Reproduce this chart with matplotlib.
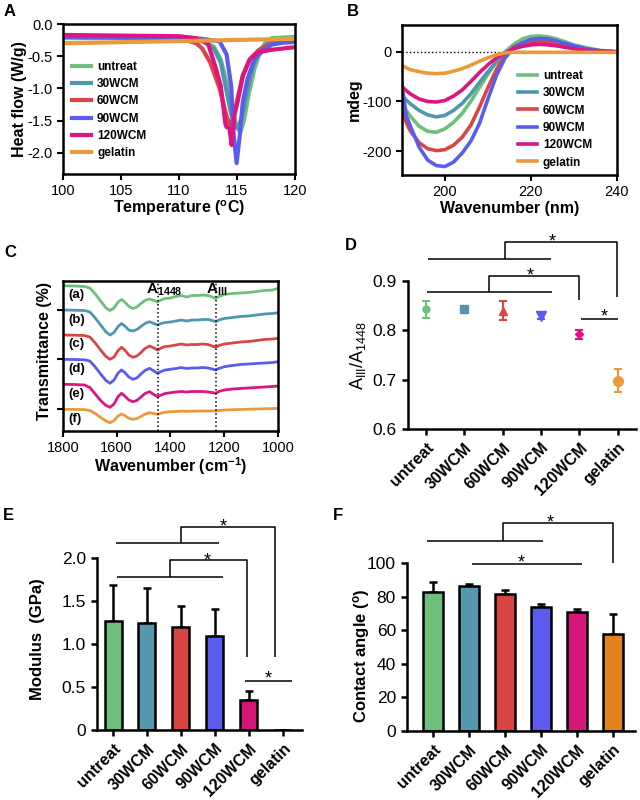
import numpy as np
import matplotlib
matplotlib.use("Agg")
import matplotlib.pyplot as plt

# fonts: Arial-like text everywhere, also inside mathtext
plt.rcParams['font.family'] = ['Liberation Sans', 'DejaVu Sans']
plt.rcParams['mathtext.fontset'] = 'custom'
plt.rcParams['mathtext.rm'] = 'Liberation Sans'
plt.rcParams['mathtext.it'] = 'Liberation Sans:italic'
plt.rcParams['mathtext.bf'] = 'Liberation Sans:bold'
plt.rcParams['axes.unicode_minus'] = False

# sample names and colours
categories = ['untreat', '30WCM', '60WCM', '90WCM', '120WCM', 'gelatin']
line_colors = ['#6dbf7b', '#4f97b0', '#db4545', '#5a5cf0', '#dc1580', '#eb9a3a']
bar_colors = ['#6dbf7b', '#5598b0', '#d94545', '#5b5bee', '#d4187a', '#e2831f']

# ---- panel A: DSC curves (temperature, heat flow) ----
dsc_untreat_t = [100, 105, 110, 112, 113, 113.6, 114.1, 114.6, 115.0, 115.3, 115.6, 116.0, 116.5, 117.0, 117.5, 118, 120]
dsc_untreat_hf = [-0.22, -0.22, -0.24, -0.27, -0.35, -0.55, -0.9, -1.35, -1.6, -1.68, -1.5, -1.1, -0.7, -0.42, -0.28, -0.22, -0.2]
dsc_30_t = [100, 105, 110, 112, 113, 113.6, 114.0, 114.5, 114.9, 115.1, 115.4, 115.8, 116.3, 116.9, 117.5, 118.5, 120]
dsc_30_hf = [-0.20, -0.21, -0.22, -0.26, -0.38, -0.6, -0.95, -1.4, -1.6, -1.63, -1.45, -1.1, -0.7, -0.42, -0.32, -0.27, -0.25]
dsc_60_t = [100, 105, 110, 111.5, 112, 112.7, 113.5, 114.1, 114.4, 114.6, 115.0, 115.5, 116.1, 116.9, 118, 119, 120]
dsc_60_hf = [-0.18, -0.19, -0.22, -0.3, -0.38, -0.6, -1.0, -1.43, -1.57, -1.5, -1.2, -0.8, -0.55, -0.4, -0.3, -0.27, -0.26]
dsc_90_t = [100, 105, 110, 112, 113.5, 114.1, 114.5, 114.7, 114.97, 115.26, 115.5, 115.9, 116.5, 117.2, 118, 119, 120]
dsc_90_hf = [-0.2, -0.21, -0.22, -0.23, -0.27, -0.47, -0.96, -1.7, -2.16, -1.7, -1.22, -0.86, -0.55, -0.42, -0.32, -0.29, -0.28]
dsc_120_t = [100, 105, 110, 111.5, 112.5, 113.2, 113.6, 114.0, 114.1, 114.35, 114.54, 114.8, 115.1, 115.5, 116.1, 116.8, 118, 120]
dsc_120_hf = [-0.17, -0.18, -0.19, -0.22, -0.3, -0.7, -0.96, -1.55, -1.6, -1.62, -1.88, -1.4, -1.17, -0.81, -0.55, -0.44, -0.4, -0.36]
dsc_gelatin_t = [100, 120]
dsc_gelatin_hf = [-0.30, -0.23]

# ---- panel B: CD spectra ----
cd_wl = [190, 191, 192, 194, 196, 198, 200, 202, 204, 206, 208, 210, 212, 214, 216, 218, 220, 222, 224, 226, 228, 230, 233, 236, 240]
cd_untreat = [-105, -118, -130, -150, -160, -162, -155, -142, -124, -100, -72, -45, -20, 0, 15, 26, 31, 32, 30, 26, 20, 14, 8, 3, 0]
cd_30 = [-88, -97, -105, -118, -127, -131, -128, -118, -104, -85, -62, -40, -20, -5, 7, 15, 19, 20, 19, 16, 12, 8, 4, 2, 0]
cd_60 = [-120, -142, -160, -183, -195, -199, -197, -188, -172, -148, -112, -72, -35, -6, 10, 17, 21, 22, 21, 18, 14, 10, 5, 2, 0]
cd_90 = [-65, -128, -150, -192, -218, -229, -231, -222, -204, -180, -145, -95, -47, -12, 8, 18, 25, 27, 26, 22, 17, 12, 6, 2, 0]
cd_120 = [-70, -78, -85, -95, -100, -101, -98, -89, -77, -60, -42, -26, -12, -2, 6, 11, 14, 15, 14, 12, 9, 6, 3, 1, 0]
cd_gelatin = [-28, -32, -36, -40, -43, -44, -43, -39, -34, -27, -19, -12, -6, -2, -1, -1, -1, -1, -1, -1, -1, -1, -1, -1, -1]

# ---- panel C: FTIR spectra, stacked (arbitrary units) ----
ftir_wn = [1800, 1760, 1720, 1700, 1680, 1660, 1640, 1625, 1610, 1595, 1582, 1570, 1555, 1540, 1525, 1510, 1495,
           1478, 1462, 1448, 1435, 1420, 1400, 1380, 1360, 1340, 1320, 1300, 1280, 1260, 1245, 1232, 1220, 1200,
           1170, 1140, 1110, 1080, 1050, 1020, 1000]
ftir_a = [145.3, 145, 144.5, 143, 137, 130, 123, 120.5, 123, 129, 131.5, 129, 124.5, 122.5, 124, 127.5, 130.5,
          132, 130.5, 129, 131, 132.5, 133, 134.5, 135.5, 134, 135.5, 135.5, 136, 135.5, 134, 132.5, 134.5, 136.5,
          137.5, 138, 138.5, 139.5, 140.5, 141, 142.7]
ftir_b = [121, 120.8, 120.5, 119, 113, 106, 99, 96, 98.5, 104.5, 107.5, 105, 101, 100, 101.5, 104.5, 107.5,
          109.3, 107.5, 106, 107.5, 108.5, 109, 110, 111, 110, 111, 111, 111.5, 111.5, 110.5, 109.3, 111, 112.5,
          113.5, 114.5, 115, 116, 117, 117.5, 118.3]
ftir_c = [96, 95.8, 95.5, 94, 88, 81, 74.5, 71.7, 74, 80.5, 83.7, 81, 76, 73.7, 75, 78.5, 82.5,
          85, 83, 81, 83, 84.5, 85, 86, 87, 86, 86.5, 86.5, 87, 86.5, 85, 83.7, 85.5, 87,
          88, 89, 89.5, 90.5, 91.5, 92, 92.7]
ftir_d = [71.7, 71.5, 71.2, 70, 64, 57, 50.5, 47.7, 51, 58, 61, 58.5, 54, 51.7, 53, 57, 60.5,
          62.7, 60, 57.7, 59.5, 61, 61.7, 62.5, 63.5, 62.5, 63, 63, 63.5, 63, 62, 61, 62.5, 64.3,
          65.5, 66.5, 67, 67.5, 68, 68.5, 69.3]
ftir_e = [46.7, 46.5, 46, 43.5, 37, 30.5, 25.5, 23.7, 27, 34.5, 37.7, 35, 31, 29.3, 30.5, 34, 37.5,
          39.3, 36.5, 34.3, 36, 37.5, 38.3, 39, 39.5, 39, 39.5, 39.5, 39.5, 39, 38.5, 37.7, 39.5, 41,
          42, 42.5, 43, 43.5, 44, 44.5, 45]
ftir_f = [21.7, 21.6, 21.4, 20.5, 17.5, 13.5, 10, 8.3, 10.5, 15, 17, 15.5, 12.8, 11.7, 12.5, 14.5, 16.8,
          18.3, 17.5, 16.7, 17.8, 18.8, 19.3, 19.5, 19.8, 19.6, 19.8, 19.9, 20, 20, 20, 20, 20.5, 21,
          21.3, 21.5, 21.8, 22, 22.2, 22.4, 22.7]
ftir_letters = ['(a)', '(b)', '(c)', '(d)', '(e)', '(f)']

# ---- panels D, E, F: group means and errors ----
ratio_mean = [0.843, 0.843, 0.840, 0.829, 0.792, 0.698]
ratio_err = [0.017, 0.004, 0.020, 0.007, 0.009, 0.024]
modulus_mean = [1.27, 1.25, 1.20, 1.09, 0.35, 0.0]
modulus_err = [0.42, 0.40, 0.24, 0.32, 0.10, 0.0]
angle_mean = [82.5, 86.5, 81.5, 73.6, 70.6, 57.5]
angle_err = [6.4, 1.0, 2.2, 2.1, 2.0, 12.0]


def style_box(ax):
    # full black frame as in panels A-C
    for s in ax.spines.values():
        s.set_linewidth(1.8)
    ax.tick_params(direction='out', length=4, width=1.5, labelsize=10.5)


def style_prism(ax, labelsize=12.5):
    # only left and bottom axes
    ax.spines['top'].set_visible(False)
    ax.spines['right'].set_visible(False)
    ax.spines['left'].set_linewidth(1.8)
    ax.spines['bottom'].set_linewidth(1.8)
    ax.tick_params(direction='out', length=4.5, width=1.8, labelsize=labelsize)


def star(ax, x, y):
    # star glyph centred on (x, y)
    ax.annotate('*', (x, y), xytext=(0, -7.4), textcoords='offset points',
                ha='center', va='baseline', fontsize=13, annotation_clip=False)


def seg(ax, xs, ys):
    ax.plot(xs, ys, color='black', lw=1.1, clip_on=False, solid_capstyle='butt')


def cat_labels(ax):
    ax.set_xticks(range(len(categories)))
    ax.set_xticklabels(categories, rotation=45, ha='right', rotation_mode='anchor',
                       fontsize=11.5, fontweight='bold')


fig = plt.figure(figsize=(6.4, 8), dpi=100)

# ================= A =================
axA = fig.add_axes([0.0984, 0.7825, 0.3625, 0.1875])
dsc_t = [dsc_untreat_t, dsc_30_t, dsc_60_t, dsc_90_t, dsc_120_t, dsc_gelatin_t]
dsc_hf = [dsc_untreat_hf, dsc_30_hf, dsc_60_hf, dsc_90_hf, dsc_120_hf, dsc_gelatin_hf]
for t, hf, c, name in zip(dsc_t, dsc_hf, line_colors, categories):
    axA.plot(t, hf, color=c, lw=3, label=name, solid_joinstyle='round')
axA.set_xlim(100, 120)
axA.set_ylim(-2.33, 0)
axA.set_xticks([100, 105, 110, 115, 120])
axA.set_yticks([0, -0.5, -1.0, -1.5, -2.0])
axA.set_yticklabels(['0.0', '-0.5', '-1.0', '-1.5', '-2.0'])
style_box(axA)
axA.set_xlabel(r'Temperature ($^{\mathbf{o}}$C)', fontsize=11.5, fontweight='bold')
axA.set_ylabel('Heat flow (W/g)', fontsize=11.5, fontweight='bold')
axA.yaxis.set_label_coords(-0.155, 0.5)
axA.xaxis.set_label_coords(0.5, -0.165)
axA.legend(loc='upper left', bbox_to_anchor=(0.04, 0.755), frameon=False, borderpad=0,
           borderaxespad=0, handlelength=1.6, handletextpad=0.5, labelspacing=0.45,
           prop={'weight': 'bold', 'size': 8.5})
fig.text(4 / 640, 1 - 12 / 800, 'A', fontsize=12, fontweight='bold', va='center')

# ================= B =================
axB = fig.add_axes([0.628, 0.78125, 0.336, 0.1875])
cd_all = [cd_untreat, cd_30, cd_60, cd_90, cd_120, cd_gelatin]
axB.axhline(0, color='black', lw=1, ls=':', zorder=1)
for vals, c, name in zip(cd_all, line_colors, categories):
    axB.plot(cd_wl, vals, color=c, lw=2.6, label=name)
axB.set_xlim(190, 240)
axB.set_ylim(-248, 54)
axB.set_xticks([200, 220, 240])
axB.set_yticks([0, -100, -200])
style_box(axB)
axB.set_xlabel('Wavenumber (nm)', fontsize=11.5, fontweight='bold')
axB.set_ylabel('mdeg', fontsize=11.5, fontweight='bold')
axB.yaxis.set_label_coords(-0.186, 0.5)
axB.xaxis.set_label_coords(0.5, -0.175)
axB.legend(loc='upper left', bbox_to_anchor=(0.54, 0.70), frameon=False, borderpad=0,
           borderaxespad=0, handlelength=1.6, handletextpad=0.5, labelspacing=0.45,
           prop={'weight': 'bold', 'size': 8.5})
fig.text(347 / 640, 1 - 12 / 800, 'B', fontsize=12, fontweight='bold', va='center')

# ================= C =================
axC = fig.add_axes([0.0984, 0.46125, 0.336, 0.1875])
ftir_all = [ftir_a, ftir_b, ftir_c, ftir_d, ftir_e, ftir_f]
for vals, c in zip(ftir_all, line_colors):
    axC.plot(ftir_wn, vals, color=c, lw=2)
for vals, letter in zip(ftir_all, ftir_letters):
    axC.text(1780, vals[0] - 9.5, letter, fontsize=9.5, fontweight='bold', va='center', ha='left')
axC.axvline(1448, color='black', lw=1.1, ls=':')
axC.axvline(1230, color='black', lw=1.1, ls=':')
axC.text(1492, 141, r'$\mathbf{A}_{\mathbf{1448}}$', fontsize=11, va='center', ha='left')
axC.text(1268, 141, r'$\mathbf{A}_{\mathbf{III}}$', fontsize=11, va='center', ha='left')
axC.set_xlim(1800, 1000)
axC.set_ylim(0, 150)
axC.set_xticks([1800, 1600, 1400, 1200, 1000])
axC.set_yticks([22, 72, 121])
axC.set_yticklabels([])
style_box(axC)
axC.set_xlabel(r'Wavenumber (cm$^{\mathbf{-1}}$)', fontsize=11.5, fontweight='bold')
axC.set_ylabel('Transmittance (%)', fontsize=11.5, fontweight='bold')
axC.yaxis.set_label_coords(-0.05, 0.53)
axC.xaxis.set_label_coords(0.5, -0.16)
fig.text(4 / 640, 1 - 253 / 800, 'C', fontsize=12, fontweight='bold', va='center')

# ================= D =================
axD = fig.add_axes([0.6375, 0.46375, 0.356, 0.185])
markers = ['o', 's', '^', 'v', 'D', 'o']
msizes = [5, 5.5, 6, 6.5, 4.5, 7]
for i in range(len(categories)):
    axD.errorbar(i, ratio_mean[i], yerr=ratio_err[i], fmt=markers[i], ms=msizes[i],
                 color=line_colors[i], ecolor=line_colors[i], elinewidth=1.5, capsize=3,
                 capthick=1.5, clip_on=False)
axD.set_xlim(-0.47, 5.47)
axD.set_ylim(0.6, 0.9)
axD.set_yticks([0.6, 0.7, 0.8, 0.9])
style_prism(axD)
cat_labels(axD)
axD.set_ylabel(r'A$_{\mathrm{III}}$/A$_{1448}$', fontsize=13)
axD.yaxis.set_label_coords(-0.175, 0.5)
seg(axD, [0.05, 3.25], [0.9446, 0.9446])
seg(axD, [2.06, 2.06, 4.97, 4.97], [0.9446, 0.979, 0.979, 0.8675])
star(axD, 3.28, 0.991)
seg(axD, [0.03, 3.28], [0.8777, 0.8777])
seg(axD, [1.64, 1.64, 4.0, 4.0], [0.8777, 0.910, 0.910, 0.8615])
star(axD, 2.73, 0.922)
seg(axD, [4.05, 5.0], [0.823, 0.823])
star(axD, 4.64, 0.839)
fig.text(345 / 640, 1 - 245 / 800, 'D', fontsize=12, fontweight='bold', va='center')

# ================= E =================
axE = fig.add_axes([0.1516, 0.0875, 0.3203, 0.215])
x = np.arange(len(categories))
axE.bar(x, modulus_mean, width=0.5, color=bar_colors, edgecolor='black', linewidth=1.8, zorder=2)
axE.errorbar(x, modulus_mean, yerr=[np.zeros(len(x)), modulus_err], fmt='none', ecolor='black',
             elinewidth=1.8, capsize=3, capthick=1.8, zorder=1)
axE.set_xlim(-0.47, 5.56)
axE.set_ylim(0, 2.0)
axE.set_yticks([0, 0.5, 1.0, 1.5, 2.0])
axE.set_yticklabels(['0', '0.5', '1.0', '1.5', '2.0'])
style_prism(axE)
cat_labels(axE)
axE.set_ylabel('Modulus  (GPa)', fontsize=12, fontweight='bold')
axE.yaxis.set_label_coords(-0.254, 0.53)
seg(axE, [0.09, 3.12], [2.17, 2.17])
seg(axE, [2.0, 2.0, 4.76, 4.76], [2.17, 2.36, 2.36, 0.85])
star(axE, 3.24, 2.43)
seg(axE, [0.12, 3.24], [1.78, 1.78])
seg(axE, [1.68, 1.68, 3.94, 3.94], [1.78, 1.98, 1.98, 0.85])
star(axE, 2.76, 2.03)
seg(axE, [3.88, 5.26], [0.57, 0.57])
star(axE, 4.56, 0.66)
fig.text(3 / 640, 1 - 516 / 800, 'E', fontsize=12, fontweight='bold', va='center')

# ================= F =================
axF = fig.add_axes([0.636, 0.08625, 0.356, 0.21])
axF.bar(x, angle_mean, width=0.55, color=bar_colors, edgecolor='black', linewidth=1.8, zorder=2)
axF.errorbar(x, angle_mean, yerr=[np.zeros(len(x)), angle_err], fmt='none', ecolor='black',
             elinewidth=1.8, capsize=3, capthick=1.8, zorder=1)
axF.set_xlim(-0.72, 5.61)
axF.set_ylim(0, 100)
axF.set_yticks([0, 20, 40, 60, 80, 100])
style_prism(axF)
cat_labels(axF)
axF.set_ylabel(r'Contact angle ($^{\mathbf{o}}$)', fontsize=12, fontweight='bold')
axF.yaxis.set_label_coords(-0.154, 0.45)
seg(axF, [-0.17, 3.06], [113, 113])
seg(axF, [1.94, 1.94, 5.0, 5.0], [113, 124, 124, 100])
star(axF, 3.25, 127)
seg(axF, [1.08, 4.14], [99.4, 99.4])
star(axF, 2.44, 103.6)
fig.text(333 / 640, 1 - 515 / 800, 'F', fontsize=12, fontweight='bold', va='center')

fig.savefig('out.png', dpi=100)
